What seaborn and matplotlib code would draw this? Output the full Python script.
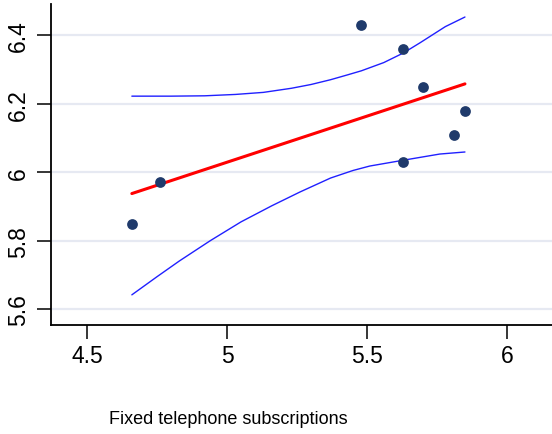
import matplotlib
matplotlib.use("Agg")
import matplotlib.pyplot as plt
import seaborn as sns
import pandas as pd

# ---- data ----
x_points = [4.66, 4.76, 5.48, 5.63, 5.70, 5.85, 5.81, 5.63]
y_points = [5.85, 5.97, 6.43, 6.36, 6.25, 6.18, 6.11, 6.03]

upper_x = [4.66, 4.80, 4.92, 5.03, 5.13, 5.23, 5.30, 5.37, 5.43, 5.48, 5.56, 5.63, 5.69, 5.78, 5.85]
upper_y = [6.222, 6.222, 6.223, 6.227, 6.233, 6.245, 6.256, 6.270, 6.284, 6.296, 6.320, 6.348, 6.378, 6.425, 6.453]

lower_x = [4.66, 4.75, 4.83, 4.94, 5.05, 5.16, 5.26, 5.37, 5.45, 5.51, 5.63, 5.76, 5.85]
lower_y = [5.642, 5.695, 5.741, 5.800, 5.855, 5.902, 5.942, 5.983, 6.005, 6.018, 6.035, 6.053, 6.059]

x_ticks = [4.5, 5, 5.5, 6]
x_tick_labels = ["4.5", "5", "5.5", "6"]
y_ticks = [5.6, 5.8, 6.0, 6.2, 6.4]
y_tick_labels = ["5.6", "5.8", "6", "6.2", "6.4"]
x_label = "Fixed telephone subscriptions"

sns.set_theme(style="white")
plt.rcParams["font.family"] = ["Liberation Sans", "DejaVu Sans"]

fig = plt.figure(figsize=(5.52, 4.35), dpi=100)
ax = fig.add_axes([0.0918, 0.2514, 0.9082, 0.7371])

pts = pd.DataFrame({"x": x_points, "y": y_points})
up = pd.DataFrame({"x": upper_x, "y": upper_y})
lo = pd.DataFrame({"x": lower_x, "y": lower_y})

for y in y_ticks:
    ax.axhline(y, color="#e6e9f2", lw=1.6, zorder=0)

sns.lineplot(data=up, x="x", y="y", ax=ax, color="#2020ff", lw=1.0,
             estimator=None, sort=True, zorder=2)
sns.lineplot(data=lo, x="x", y="y", ax=ax, color="#2020ff", lw=1.0,
             estimator=None, sort=True, zorder=2)
sns.regplot(data=pts, x="x", y="y", ax=ax, ci=None, truncate=True,
            scatter_kws=dict(color="#1f3a6b", s=60, alpha=1, zorder=5, linewidths=0),
            line_kws=dict(color="#ff0000", lw=2.2, zorder=3))

ax.set_xlim(4.370, 6.161)
ax.set_ylim(5.555, 6.491)
ax.set_xticks(x_ticks)
ax.set_xticklabels(x_tick_labels)
ax.set_yticks(y_ticks)
ax.set_yticklabels(y_tick_labels, rotation=90, va="center")
ax.tick_params(axis="both", which="major", length=10, width=1.1, color="black",
               labelcolor="black", labelsize=16.5, direction="out", bottom=True, left=True)
ax.tick_params(axis="x", pad=4)
ax.tick_params(axis="y", pad=5)

ax.set_ylabel("")
ax.set_xlabel(x_label, fontsize=13, color="black")
ax.xaxis.set_label_coords(0.355, -0.265)

for s in ["top", "right"]:
    ax.spines[s].set_visible(False)
for s in ["left", "bottom"]:
    ax.spines[s].set_color("black")
    ax.spines[s].set_linewidth(1.3)
ax.set_facecolor("white")
fig.patch.set_facecolor("white")

fig.savefig("out.png", dpi=100)
